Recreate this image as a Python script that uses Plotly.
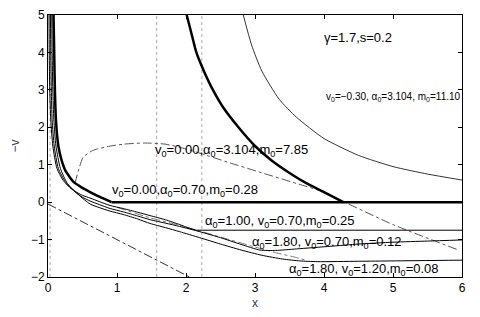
import plotly.graph_objects as go

# ---- data ----
thick_left_x = [0.08, 0.09, 0.10, 0.115, 0.15, 0.20, 0.25, 0.37, 0.50, 0.61, 0.75, 0.92]
thick_left_y = [5.0, 4.0, 3.0, 2.2, 1.5, 1.1, 0.85, 0.54, 0.38, 0.27, 0.14, 0.0]
thick_flat_x = [0.92, 6.0]
thick_flat_y = [0.0, 0.0]

thick_right_x = [2.01, 2.08, 2.15, 2.26, 2.39, 2.55, 2.76, 3.00, 3.25, 3.50, 3.75, 4.00, 4.28]
thick_right_y = [5.0, 4.5, 4.0, 3.5, 3.0, 2.5, 2.0, 1.5, 1.1, 0.78, 0.5, 0.27, 0.0]

thin_top_x = [2.83, 2.95, 3.10, 3.35, 3.60, 4.00, 4.50, 5.00, 5.50, 6.00]
thin_top_y = [5.0, 4.2, 3.5, 2.75, 2.27, 1.70, 1.25, 0.95, 0.75, 0.59]

t_x = [0.015, 0.018, 0.025, 0.04, 0.07, 0.13, 0.22, 0.34, 0.50, 0.61, 0.75, 0.90, 1.09, 1.30, 1.48, 1.70, 1.91, 2.05, 2.15]
t_y = [5.0, 4.0, 3.0, 2.2, 1.5, 0.9, 0.58, 0.35, 0.18, 0.11, 0.01, -0.09, -0.17, -0.27, -0.36, -0.47, -0.60, -0.70, -0.75]
t_flat_x = [2.15, 6.0]
t_flat_y = [-0.75, -0.75]

m_x = [0.035, 0.04, 0.048, 0.06, 0.09, 0.15, 0.25, 0.39, 0.50, 0.61, 0.75, 0.90, 1.09, 1.30, 1.48, 1.70, 1.91, 2.20, 2.50, 2.80, 3.07, 3.30, 3.60, 4.09, 4.50, 5.00, 5.50, 6.00]
m_y = [5.0, 4.0, 3.0, 2.2, 1.5, 0.9, 0.55, 0.28, 0.13, 0.03, -0.07, -0.17, -0.26, -0.37, -0.47, -0.56, -0.65, -0.79, -0.95, -1.13, -1.28, -1.29, -1.25, -1.18, -1.12, -1.07, -1.04, -1.01]

b_x = [0.055, 0.06, 0.07, 0.085, 0.115, 0.18, 0.28, 0.44, 0.61, 0.75, 0.90, 1.09, 1.30, 1.48, 1.70, 1.91, 2.20, 2.50, 2.80, 3.10, 3.40, 3.65, 3.90, 4.50, 5.00, 6.00]
b_y = [5.0, 4.0, 3.0, 2.2, 1.5, 0.9, 0.5, 0.2, -0.05, -0.15, -0.24, -0.33, -0.45, -0.57, -0.68, -0.79, -0.95, -1.12, -1.28, -1.42, -1.52, -1.57, -1.59, -1.58, -1.57, -1.55]

dd_x = [0.39, 0.45, 0.51, 0.65, 0.85, 1.10, 1.40, 1.70, 2.00, 2.30, 2.60, 3.07, 3.60, 4.00, 4.30, 5.00, 5.95]
dd_y = [0.5, 0.9, 1.2, 1.38, 1.48, 1.55, 1.58, 1.55, 1.42, 1.25, 1.07, 0.80, 0.50, 0.27, 0.0, -0.60, -1.28]

dd2_x = [1.00, 1.48, 1.91, 2.44, 3.00, 3.30, 3.60, 3.75]
dd2_y = [-0.14, -0.42, -0.62, -0.90, -1.20, -1.35, -1.48, -1.56]

dl_x = [0.0, 2.05]
dl_y = [-0.05, -2.0]

vlines = [0.03, 1.575, 2.23]

x_ticks = [0, 1, 2, 3, 4, 5, 6]
y_ticks = [-2, -1, 0, 1, 2, 3, 4, 5]

fig = go.Figure()

def line(x, y, width=1, color="black", dash="solid", smooth=True):
    fig.add_trace(go.Scatter(x=x, y=y, mode="lines", showlegend=False,
                             line=dict(color=color, width=width, dash=dash,
                                       shape="spline" if smooth else "linear",
                                       smoothing=0.6 if smooth else None)))

for v in vlines:
    line([v, v], [-2, 5], width=1, color="#aaaaaa", dash="dot", smooth=False)

line(dd_x, dd_y, 1, "#555555", "dashdot")
line(dd2_x, dd2_y, 1, "#777777", "dashdot")
line(dl_x, dl_y, 1, "#333333", "dashdot", smooth=False)
line(t_x, t_y, 1)
line(t_flat_x, t_flat_y, 1, smooth=False)
line(m_x, m_y, 1)
line(b_x, b_y, 1)
line(thin_top_x, thin_top_y, 0.8)
line(thick_left_x, thick_left_y, 2.5)
line(thick_flat_x, thick_flat_y, 2.5, smooth=False)
line(thick_right_x, thick_right_y, 2.5)

FONT = "Liberation Sans, Arial, sans-serif"
ann = [
    (4.49, 4.4, "γ=1.7,s=0.2", "center", 13),
    (4.0, 2.8, "v<sub>0</sub>=−0.30, α<sub>0</sub>=3.104, m<sub>0</sub>=11.10", "left", 10),
    (1.52, 1.39, "v<sub>0</sub>=0.00,α<sub>0</sub>=3.104,m<sub>0</sub>=7.85", "left", 13),
    (0.90, 0.32, "v<sub>0</sub>=0.00,α<sub>0</sub>=0.70,m<sub>0</sub>=0.28", "left", 13),
    (2.25, -0.53, "α<sub>0</sub>=1.00, v<sub>0</sub>=0.70,m<sub>0</sub>=0.25", "left", 13),
    (2.93, -1.07, "α<sub>0</sub>=1.80, v<sub>0</sub>=0.70,m<sub>0</sub>=0.12", "left", 13),
    (3.47, -1.80, "α<sub>0</sub>=1.80, v<sub>0</sub>=1.20,m<sub>0</sub>=0.08", "left", 13),
]
for x, y, t, xa, fs in ann:
    fig.add_annotation(x=x, y=y, text=t, showarrow=False, xanchor=xa, yanchor="middle",
                       font=dict(family=FONT, size=fs, color="black"))

axis_common = dict(showline=True, linecolor="black", linewidth=1, mirror="allticks",
                   ticks="inside", ticklen=4, tickcolor="black", showgrid=False, zeroline=False,
                   automargin=False,
                   tickfont=dict(family=FONT, size=12, color="black"))

fig.update_xaxes(range=[0, 6], tickvals=x_ticks, title=dict(text="x", standoff=4,
                 font=dict(family=FONT, size=12)), **axis_common)
fig.update_yaxes(range=[-2, 5], tickvals=y_ticks, ticktext=[("−" + str(-v)) if v < 0 else str(v) for v in y_ticks],
                 title=dict(text="−v", standoff=8, font=dict(family=FONT, size=12)), **axis_common)

# the page body adds an 8 px offset, so margins are adjusted to put the plot area at 48..462 x 15..277
fig.update_layout(width=480, height=317, margin=dict(l=40, r=26, t=7, b=48),
                  plot_bgcolor="white", paper_bgcolor="white")

fig.write_html("out.html")
